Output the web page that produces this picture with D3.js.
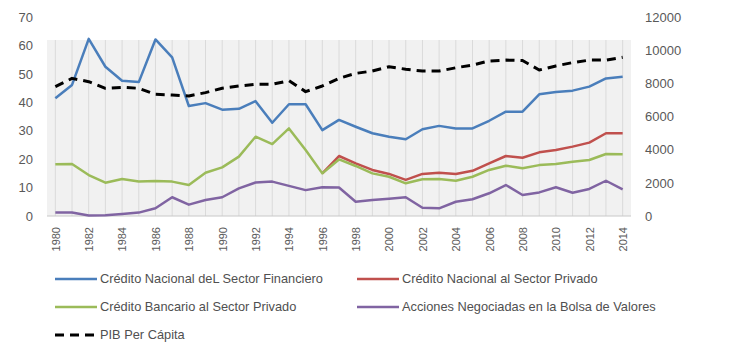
<!DOCTYPE html>
<html>
<head>
<meta charset="utf-8">
<script src="https://cdn.jsdelivr.net/npm/d3@7"></script>
<style>
  body { margin: 0; background: #fff; }
  text { font-family: "Liberation Sans", Arial, sans-serif; }
</style>
</head>
<body>
<svg id="chart" width="730" height="346"></svg>
<script>
// Data
const years = d3.range(1980, 2015);
const creditoFinanciero = [41.4, 46.1, 62.3, 52.5, 47.6, 47.1, 62.1, 55.8, 38.7, 39.7, 37.4, 37.7, 40.4, 32.8, 39.3, 39.3, 30.2, 33.8, 31.4, 29.1, 27.9, 27.0, 30.5, 31.7, 30.8, 30.8, 33.5, 36.7, 36.7, 42.8, 43.6, 44.1, 45.5, 48.4, 49.0];
const creditoPrivado = [null, null, null, null, null, null, null, null, null, null, null, null, null, null, null, null, 15.0, 21.1, 18.5, 16.2, 14.8, 12.7, 14.8, 15.2, 14.8, 15.9, 18.5, 21.1, 20.5, 22.4, 23.2, 24.4, 25.8, 29.1, 29.1];
const creditoBancario = [18.2, 18.3, 14.4, 11.7, 13.0, 12.1, 12.3, 12.1, 10.9, 15.2, 17.1, 20.9, 27.9, 25.3, 30.8, 23.2, 15.0, 19.9, 17.6, 15.0, 13.8, 11.5, 12.9, 13.0, 12.4, 13.8, 16.2, 17.7, 16.8, 17.9, 18.3, 19.1, 19.7, 21.8, 21.7];
const acciones = [1.2, 1.2, 0.2, 0.3, 0.7, 1.2, 2.7, 6.6, 4.0, 5.6, 6.6, 9.7, 11.8, 12.1, 10.6, 9.1, 10.1, 10.0, 5.0, 5.6, 6.1, 6.6, 2.9, 2.7, 5.0, 5.9, 8.0, 10.9, 7.4, 8.3, 10.1, 8.2, 9.5, 12.4, 9.4];
const pibPerCapita = [7800, 8300, 8100, 7700, 7760, 7700, 7340, 7300, 7240, 7440, 7700, 7840, 7940, 7940, 8160, 7500, 7840, 8300, 8600, 8740, 9000, 8850, 8740, 8740, 8940, 9100, 9350, 9400, 9380, 8800, 9050, 9250, 9400, 9400, 9570];
const leftTicks = [0, 10, 20, 30, 40, 50, 60, 70];
const rightTicks = [0, 2000, 4000, 6000, 8000, 10000, 12000];
const yearTicks = d3.range(1980, 2015, 2);

const series = [
  { name: "Crédito Nacional deL Sector Financiero", values: creditoFinanciero, color: "#4a7ebb", axis: "left" },
  { name: "Crédito Nacional al Sector Privado", values: creditoPrivado, color: "#c0504d", axis: "left" },
  { name: "Crédito Bancario al Sector Privado", values: creditoBancario, color: "#9bbb59", axis: "left" },
  { name: "Acciones Negociadas en la Bolsa de Valores", values: acciones, color: "#8064a2", axis: "left" },
  { name: "PIB Per Cápita", values: pibPerCapita, color: "#000000", axis: "right", dashed: true }
];

const svg = d3.select("#chart");
const plot = { left: 47, right: 631, top: 17, bottom: 216 };

const x = d3.scalePoint().domain(years).range([plot.left, plot.right]).padding(0.5);
const yLeft = d3.scaleLinear().domain([0, 70]).range([plot.bottom, plot.top]);
const yRight = d3.scaleLinear().domain([0, 12000]).range([plot.bottom, plot.top]);

// plot background + vertical gridlines
svg.append("rect")
  .attr("x", plot.left).attr("y", 40)
  .attr("width", plot.right - plot.left).attr("height", plot.bottom - 40)
  .attr("fill", "#f1f1f1");

svg.append("g").selectAll("line").data(years).join("line")
  .attr("x1", d => x(d)).attr("x2", d => x(d))
  .attr("y1", 40).attr("y2", plot.bottom)
  .attr("stroke", "#dadada").attr("stroke-width", 1);

svg.append("line")
  .attr("x1", plot.left).attr("x2", plot.right)
  .attr("y1", plot.bottom).attr("y2", plot.bottom)
  .attr("stroke", "#c8c8c8");

// axes
const leftAxis = svg.append("g")
  .attr("transform", "translate(36,0)")
  .call(d3.axisLeft(yLeft).tickValues(leftTicks).tickSize(0).tickPadding(3));
const rightAxis = svg.append("g")
  .attr("transform", "translate(642,0)")
  .call(d3.axisRight(yRight).tickValues(rightTicks).tickFormat(d3.format("d")).tickSize(0).tickPadding(3));
const xAxis = svg.append("g")
  .attr("transform", `translate(0,${plot.bottom})`)
  .call(d3.axisBottom(x).tickValues(yearTicks).tickSize(0));

[leftAxis, rightAxis, xAxis].forEach(g => {
  g.select(".domain").remove();
  g.selectAll("text")
    .attr("fill", "#595959")
    .style("font-family", "'Liberation Sans', Arial, sans-serif");
});
leftAxis.selectAll("text").style("font-size", "13px");
rightAxis.selectAll("text").style("font-size", "13px");
xAxis.selectAll("text")
  .style("font-size", "11px")
  .style("text-anchor", "end")
  .attr("transform", "rotate(-90)")
  .attr("x", -11)
  .attr("y", 0)
  .attr("dy", "0.35em");

// lines
series.forEach(s => {
  const yScale = s.axis === "left" ? yLeft : yRight;
  const line = d3.line()
    .defined(d => d != null)
    .x((d, i) => x(years[i]))
    .y(d => yScale(d));
  svg.append("path")
    .datum(s.values)
    .attr("fill", "none")
    .attr("stroke", s.color)
    .attr("stroke-width", s.dashed ? 3 : 2.5)
    .attr("stroke-dasharray", s.dashed ? "9,6" : null)
    .attr("stroke-linejoin", "round")
    .attr("d", line);
});

// legend
const legendPos = [
  { x: 55, y: 279 }, { x: 357, y: 279 },
  { x: 55, y: 307 }, { x: 357, y: 307 },
  { x: 55, y: 335 }
];
series.forEach((s, i) => {
  const p = legendPos[i];
  const g = svg.append("g").attr("transform", `translate(${p.x},${p.y})`);
  g.append("line").attr("x1", 0).attr("x2", 42).attr("y1", 0).attr("y2", 0)
    .attr("stroke", s.color)
    .attr("stroke-width", s.dashed ? 3 : 2.5)
    .attr("stroke-dasharray", s.dashed ? "9,6" : null);
  g.append("text").attr("x", 45).attr("y", 0).attr("dy", "0.35em")
    .attr("fill", "#505050")
    .style("font-size", "12.8px")
    .text(s.name);
});
</script>
</body>
</html>
